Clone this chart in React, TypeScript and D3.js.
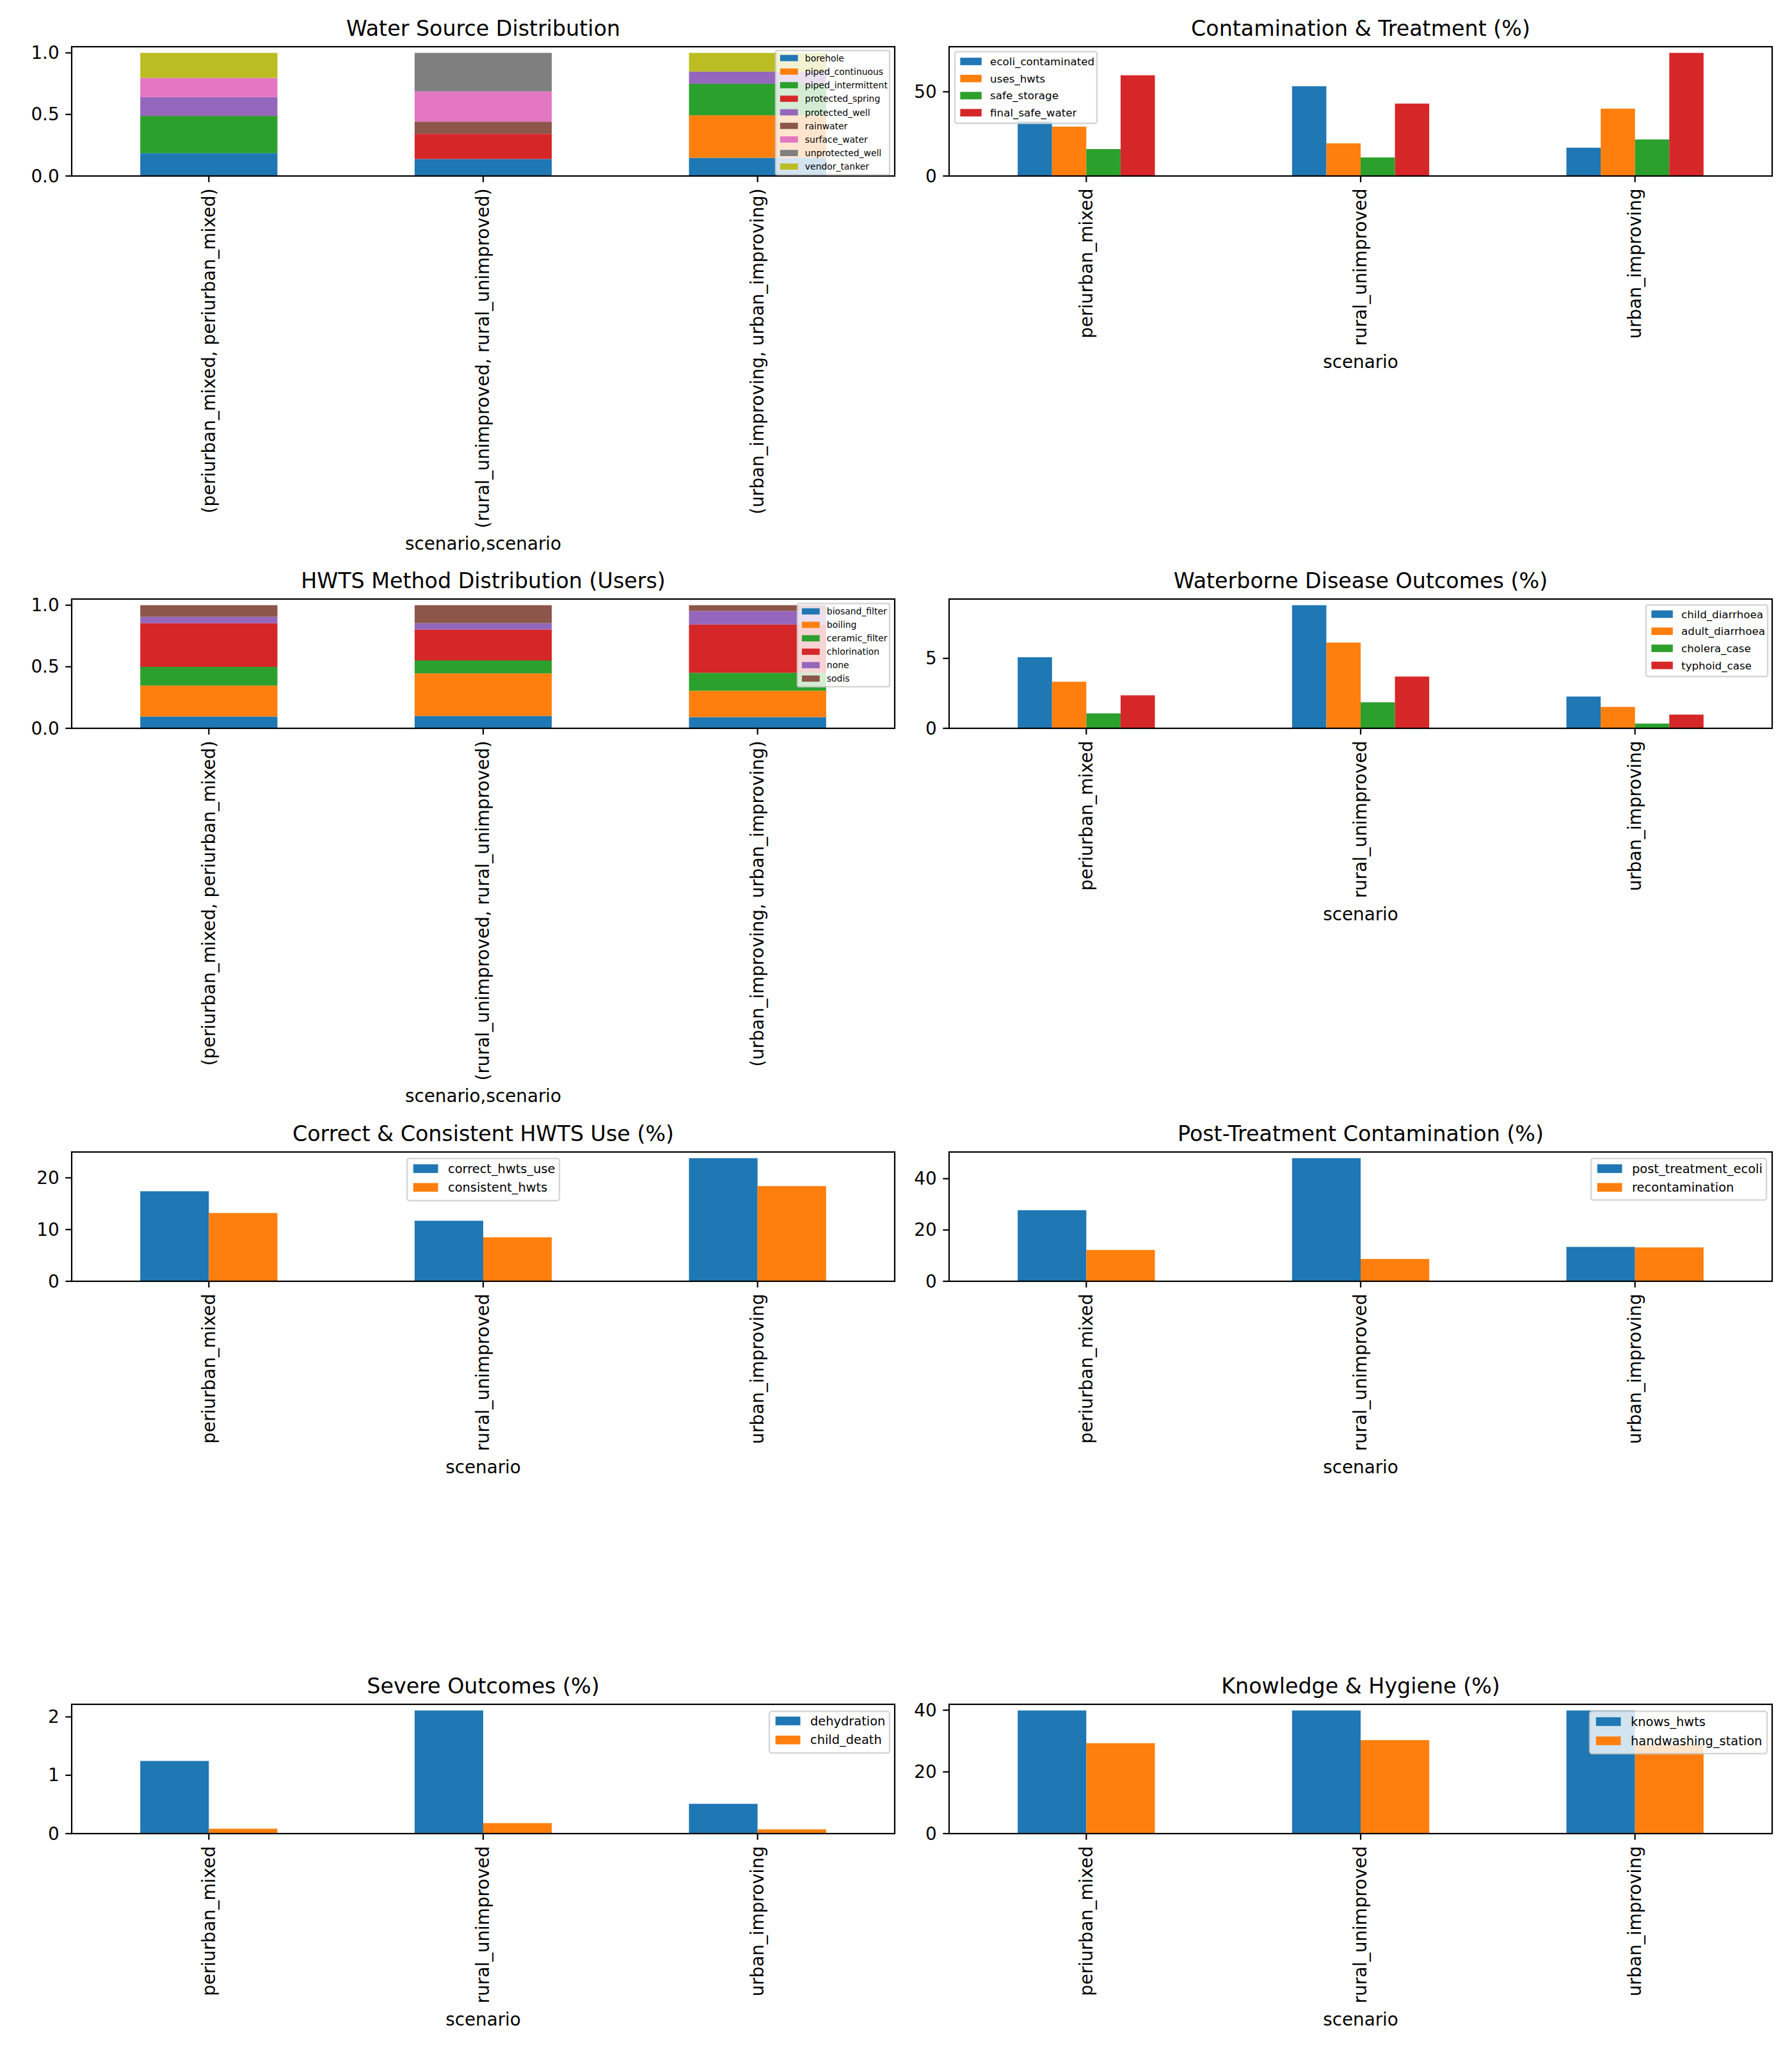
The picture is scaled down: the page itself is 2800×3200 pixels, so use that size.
import * as d3 from 'd3'

// scenarios on the x axis of every panel
const scenarios = ['periurban_mixed', 'rural_unimproved', 'urban_improving']

// share of households by main water source (rows = scenario)
const waterSources = [
  'borehole', 'piped_continuous', 'piped_intermittent', 'protected_spring', 'protected_well',
  'rainwater', 'surface_water', 'unprotected_well', 'vendor_tanker',
]
const waterSourceShare = [
  [0.186, 0, 0.302, 0, 0.152, 0, 0.157, 0, 0.203],
  [0.138, 0, 0, 0.204, 0, 0.099, 0.246, 0.313, 0],
  [0.148, 0.345, 0.256, 0, 0.099, 0, 0, 0, 0.152],
]

// share of HWTS users by method
const hwtsMethods = ['biosand_filter', 'boiling', 'ceramic_filter', 'chlorination', 'none', 'sodis']
const hwtsMethodShare = [
  [0.096, 0.251, 0.152, 0.355, 0.052, 0.094],
  [0.101, 0.345, 0.105, 0.251, 0.052, 0.146],
  [0.091, 0.214, 0.146, 0.392, 0.110, 0.047],
]

const contaminationSeries = ['ecoli_contaminated', 'uses_hwts', 'safe_storage', 'final_safe_water']
const contaminationPct = [
  [32.4, 29.3, 16.0, 59.8],
  [53.3, 19.4, 11.0, 43.0],
  [16.8, 40.0, 21.7, 73.1],
]

const diseaseSeries = ['child_diarrhoea', 'adult_diarrhoea', 'cholera_case', 'typhoid_case']
const diseasePct = [
  [5.08, 3.33, 1.07, 2.36],
  [8.80, 6.13, 1.86, 3.70],
  [2.27, 1.53, 0.34, 0.98],
]

const hwtsUseSeries = ['correct_hwts_use', 'consistent_hwts']
const hwtsUsePct = [
  [17.4, 13.2],
  [11.7, 8.5],
  [23.8, 18.4],
]

const postTreatmentSeries = ['post_treatment_ecoli', 'recontamination']
const postTreatmentPct = [
  [27.7, 12.2],
  [48.0, 8.7],
  [13.4, 13.2],
]

const severeSeries = ['dehydration', 'child_death']
const severePct = [
  [1.245, 0.084],
  [2.11, 0.18],
  [0.51, 0.073],
]

const knowledgeSeries = ['knows_hwts', 'handwashing_station']
const knowledgePct = [
  [39.9, 29.3],
  [39.9, 30.3],
  [39.9, 28.9],
]

const shareTicks = [0, 0.5, 1.0]
const contaminationTicks = [0, 50]
const diseaseTicks = [0, 5]
const hwtsUseTicks = [0, 10, 20]
const postTreatmentTicks = [0, 20, 40]
const severeTicks = [0, 1, 2]
const knowledgeTicks = [0, 20, 40]

const tab10 = d3.schemeCategory10

const W = 2800
const H = 3200
const FONT = 'DejaVu Sans, sans-serif'
const TICK_FS = 27.8
const TITLE_FS = 33.3
const LW = 2.2
const TICK_LEN = 9.7
const colLeft = [112, 1483]
const axW = 1286
const rowTop = [73, 936, 1800, 2663]
const axH = 202

interface LegendBox { x: number; y: number; w: number; h: number; first: number; pitch: number; f: number }

interface Panel {
  title: string
  series: string[]
  values: number[][]
  stacked: boolean
  ticks: number[]
  fmt: (v: number) => string
  multi: boolean
  legend: LegendBox
}

const panels: Panel[] = [
  {
    title: 'Water Source Distribution', series: waterSources, values: waterSourceShare, stacked: true,
    ticks: shareTicks, fmt: d3.format('.1f'), multi: true,
    legend: { x: 1100, y: 6, w: 178, h: 194, first: 11.7, pitch: 21.2, f: 13.9 },
  },
  {
    title: 'Contamination & Treatment (%)', series: contaminationSeries, values: contaminationPct, stacked: false,
    ticks: contaminationTicks, fmt: d3.format('d'), multi: false,
    legend: { x: 9, y: 7.7, w: 222, h: 112, first: 15.3, pitch: 26.7, f: 16.7 },
  },
  {
    title: 'HWTS Method Distribution (Users)', series: hwtsMethods, values: hwtsMethodShare, stacked: true,
    ticks: shareTicks, fmt: d3.format('.1f'), multi: true,
    legend: { x: 1134, y: 7, w: 144, h: 130, first: 12.3, pitch: 21, f: 13.9 },
  },
  {
    title: 'Waterborne Disease Outcomes (%)', series: diseaseSeries, values: diseasePct, stacked: false,
    ticks: diseaseTicks, fmt: d3.format('d'), multi: false,
    legend: { x: 1089, y: 9.3, w: 190, h: 111.7, first: 14.3, pitch: 26.7, f: 16.7 },
  },
  {
    title: 'Correct & Consistent HWTS Use (%)', series: hwtsUseSeries, values: hwtsUsePct, stacked: false,
    ticks: hwtsUseTicks, fmt: d3.format('d'), multi: false,
    legend: { x: 524, y: 10, w: 238, h: 66, first: 16, pitch: 29.3, f: 19.4 },
  },
  {
    title: 'Post-Treatment Contamination (%)', series: postTreatmentSeries, values: postTreatmentPct, stacked: false,
    ticks: postTreatmentTicks, fmt: d3.format('d'), multi: false,
    legend: { x: 1003, y: 10, w: 274, h: 65, first: 16, pitch: 29.3, f: 19.4 },
  },
  {
    title: 'Severe Outcomes (%)', series: severeSeries, values: severePct, stacked: false,
    ticks: severeTicks, fmt: d3.format('d'), multi: false,
    legend: { x: 1090, y: 11, w: 188, h: 65, first: 15, pitch: 29.7, f: 19.4 },
  },
  {
    title: 'Knowledge & Hygiene (%)', series: knowledgeSeries, values: knowledgePct, stacked: false,
    ticks: knowledgeTicks, fmt: d3.format('d'), multi: false,
    legend: { x: 1001, y: 11, w: 277, h: 66, first: 16, pitch: 30, f: 19.4 },
  },
]

function BarPanel({ panel, left, top }: { panel: Panel; left: number; top: number }) {
  const bottom = top + axH
  const x = d3.scaleLinear().domain([-0.5, scenarios.length - 0.5]).range([left, left + axW])

  const maxVal = panel.stacked
    ? d3.max(panel.values, (row) => d3.sum(row)) ?? 1
    : d3.max(panel.values, (row) => d3.max(row) ?? 0) ?? 1
  const y = d3.scaleLinear().domain([0, maxVal * 1.05]).range([bottom, top])

  const bars: { key: string; x: number; w: number; y0: number; y1: number; color: string }[] = []
  panel.values.forEach((row, i) => {
    if (panel.stacked) {
      const stack = d3.cumsum(row)
      row.forEach((v, j) => {
        const base = stack[j] - v
        bars.push({
          key: `${i}-${j}`, x: x(i - 0.25), w: x(i + 0.25) - x(i - 0.25),
          y0: y(base), y1: y(stack[j]), color: tab10[j % 10],
        })
      })
    } else {
      const n = row.length
      const bw = 0.5 / n
      row.forEach((v, j) => {
        const x0 = i - 0.25 + j * bw
        bars.push({
          key: `${i}-${j}`, x: x(x0), w: x(x0 + bw) - x(x0),
          y0: y(0), y1: y(v), color: tab10[j % 10],
        })
      })
    }
  })

  const lg = panel.legend
  const lx = left + lg.x
  const ly = top + lg.y
  const xlabelY = bottom + (panel.multi ? 574 : 290)

  return (
    <g>
      <text x={left + axW / 2} y={top - 16.7} textAnchor="middle" fontSize={TITLE_FS} fontFamily={FONT}>
        {panel.title}
      </text>
      {bars.map((b) => (
        <rect key={b.key} x={b.x} width={b.w} y={b.y1} height={Math.max(0, b.y0 - b.y1)} fill={b.color} />
      ))}
      <rect x={left} y={top} width={axW} height={axH} fill="none" stroke="#000" strokeWidth={LW} />
      {panel.ticks.map((t) => (
        <g key={t}>
          <line x1={left - TICK_LEN} x2={left} y1={y(t)} y2={y(t)} stroke="#000" strokeWidth={LW} />
          <text x={left - 19.4} y={y(t)} textAnchor="end" dominantBaseline="central" fontSize={TICK_FS} fontFamily={FONT}>
            {panel.fmt(t)}
          </text>
        </g>
      ))}
      {scenarios.map((s, i) => {
        const tx = x(i)
        const ty = bottom + 19.4
        return (
          <g key={s}>
            <line x1={tx} x2={tx} y1={bottom} y2={bottom + TICK_LEN} stroke="#000" strokeWidth={LW} />
            <text
              x={tx} y={ty} transform={`rotate(-90, ${tx}, ${ty})`} textAnchor="end" dominantBaseline="central"
              fontSize={TICK_FS} fontFamily={FONT}
            >
              {panel.multi ? `(${s}, ${s})` : s}
            </text>
          </g>
        )
      })}
      <text x={left + axW / 2} y={xlabelY} textAnchor="middle" dominantBaseline="central" fontSize={TICK_FS} fontFamily={FONT}>
        {panel.multi ? 'scenario,scenario' : 'scenario'}
      </text>
      <g>
        <rect
          x={lx} y={ly} width={lg.w} height={lg.h} rx={lg.f * 0.2}
          fill="#fff" fillOpacity={0.8} stroke="#cccccc" strokeOpacity={0.8} strokeWidth={2.5}
        />
        {panel.series.map((name, j) => {
          const cy = ly + lg.first + j * lg.pitch
          return (
            <g key={name}>
              <rect x={lx + 0.5 * lg.f} y={cy - 0.35 * lg.f} width={2 * lg.f} height={0.7 * lg.f} fill={tab10[j % 10]} />
              <text x={lx + 3.3 * lg.f} y={cy} dominantBaseline="central" fontSize={lg.f} fontFamily={FONT}>
                {name}
              </text>
            </g>
          )
        })}
      </g>
    </g>
  )
}

export default function App() {
  return (
    <svg width={W} height={H} viewBox={`0 0 ${W} ${H}`} style={{ position: 'absolute', left: 0, top: 0, background: '#fff' }}>
      <rect width={W} height={H} fill="#fff" />
      {panels.map((p, k) => (
        <BarPanel key={p.title} panel={p} left={colLeft[k % 2]} top={rowTop[Math.floor(k / 2)]} />
      ))}
    </svg>
  )
}
